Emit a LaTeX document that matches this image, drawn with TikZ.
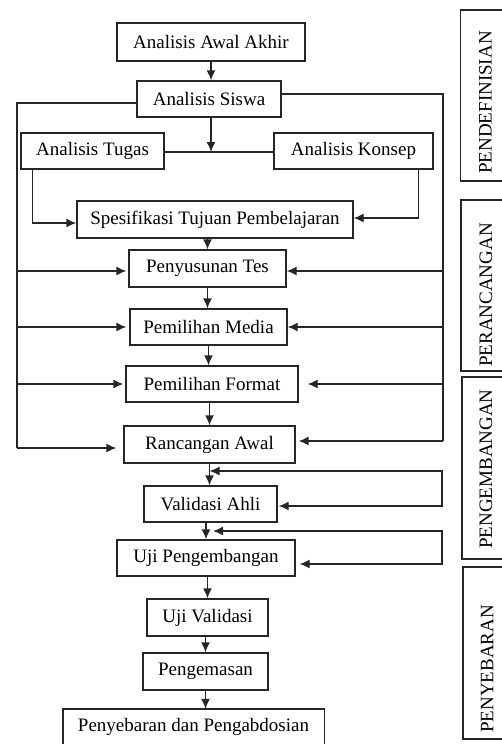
\documentclass[tikz,border=0pt]{standalone}
\usepackage{fontspec}
\setmainfont{Liberation Serif}
\usetikzlibrary{arrows.meta}
\begin{document}
\begin{tikzpicture}[x=1pt,y=-1pt,
  font=\fontsize{19}{22}\selectfont,
  box/.style={draw=black!85, line width=1.4pt, inner sep=0pt, text=black},
  ln/.style={draw=black!85, line width=1.4pt},
  arr/.style={ln, -{Latex[length=10pt,width=9pt]}},
  dbl/.style={ln, {Latex[length=10pt,width=9pt]}-{Latex[length=10pt,width=9pt]}},
  panel/.style={rotate=90, inner sep=0pt, text=black}]
\useasboundingbox (0,0) rectangle (502,744);

% main boxes
\node[box, minimum width=188pt, minimum height=38pt] (aaa) at (211,42) {Analisis Awal Akhir};
\node[box, minimum width=144pt, minimum height=36pt] (siswa) at (209,99) {Analisis Siswa};
\node[box, minimum width=143pt, minimum height=36pt] (tugas) at (92.5,151) {Analisis Tugas};
\node[box, minimum width=159pt, minimum height=36pt] (konsep) at (353.5,151) {Analisis Konsep};
\node[box, minimum width=276pt, minimum height=37pt] (spes) at (215,219.5) {Spesifikasi Tujuan Pembelajaran};
\node[box, minimum width=157pt, minimum height=37pt] (tes) at (207.5,268.5) {Penyusunan Tes};
\node[box, minimum width=157pt, minimum height=36pt] (media) at (208.5,327) {Pemilihan Media};
\node[box, minimum width=172pt, minimum height=36pt] (format) at (212,384) {Pemilihan Format};
\node[box, minimum width=171pt, minimum height=37pt] (awal) at (209.5,444.5) {Rancangan Awal};
\node[box, minimum width=133pt, minimum height=36pt] (ahli) at (210.5,504) {Validasi Ahli};
\node[box, minimum width=178pt, minimum height=36pt] (ujip) at (206,558) {Uji Pengembangan};
\node[box, minimum width=121pt, minimum height=37pt] (ujiv) at (207.5,617.5) {Uji Validasi};
\node[box, minimum width=125pt, minimum height=37pt] (kemas) at (205.5,671.5) {Pengemasan};
\node[inner sep=0pt, minimum width=261pt, minimum height=35pt, text=black] (sebar) at (193.5,726.5) {Penyebaran dan Pengabdosian};
\draw[ln] (sebar.south west) |- (sebar.north east) -- (sebar.south east);

% top analysis connectors
\coordinate (j) at (211,152);
\draw[arr] (aaa.south) -- (aaa.south |- siswa.north);
\draw[ln] (tugas.east |- j) -- (konsep.west |- j);
\draw[arr] (siswa.south -| j) -- (j);
\draw[arr] ([xshift=12pt]tugas.south west) |- ([yshift=-3.5pt]spes.west);
\draw[arr] ([xshift=-15pt]konsep.south east) |- ([yshift=1.5pt]spes.east);

% main vertical chain
\draw[arr] (spes.south -| tes.north) -- (tes.north);
\draw[arr] (tes.south) -- (tes.south |- media.north);
\draw[arr] (media.south) -- (media.south |- format.north);
\draw[arr] (format.south -| awal.north) -- (awal.north);
\draw[arr] (awal.south) -- (awal.south |- ahli.north);
\draw[arr] (ujip.north |- ahli.south) -- (ujip.north);
\draw[arr] (ujiv.north |- ujip.south) -- (ujiv.north);
\draw[arr] (kemas.north |- ujiv.south) -- (kemas.north);
\draw[arr] (kemas.south) -- (kemas.south |- sebar.north);

% left bus
\coordinate (lt) at (17,103);
\coordinate (lb) at (17,448);
\draw[ln] ([yshift=-4pt]siswa.west) -- (lt) -- (lb);
\draw[arr, shorten >=2pt] ([yshift=-2.5pt]tes.west -| lt) -- ([yshift=-2.5pt]tes.west);
\draw[arr, shorten >=3pt] (media.west -| lt) -- (media.west);
\draw[arr, shorten >=2pt] (format.west -| lt) -- (format.west);
\draw[arr] (lb) -- ([xshift=-7pt]awal.west |- lb);

% right bus
\coordinate (rt) at (443,94);
\coordinate (rb) at (443,441);
\draw[ln] ([yshift=5pt]siswa.east) -- (rt) -- (rb);
\draw[arr] ([yshift=-2.5pt]tes.east -| rt) -- ([yshift=-2.5pt]tes.east);
\draw[arr] (media.east -| rt) -- (media.east);
\draw[arr] (format.east -| rt) -- ([xshift=9pt]format.east);
\draw[arr] (rb) -- ([xshift=3pt]awal.east |- rb);

% feedback loops
\coordinate (l1t) at (442,471);
\coordinate (m1) at (awal.south |- l1t);
\draw[dbl] (m1) -- (l1t) |- ([xshift=1pt,yshift=-2pt]ahli.east);
\coordinate (l2t) at (442,531);
\coordinate (m2) at ([xshift=7pt]ujip.north |- l2t);
\draw[dbl] (m2) -- (l2t) |- ([xshift=4pt,yshift=-6pt]ujip.east);

% phase panels
\draw[ln] (502,10) -- (460.5,10) -- (460.5,181) -- (502,181);
\node[panel] (p1) at (485.5,102.5) {PENDEFINISIAN};
\draw[ln] (502,200) -- (461,200) -- (461,371) -- (502,371);
\node[panel] (p2) at (486,295) {PERANCANGAN};
\draw[ln] (502,377) -- (462,377) -- (462,559) -- (502,559);
\node[panel] (p3) at (486,469) {PENGEMBANGAN};
\draw[ln] (502,567) -- (463,567) -- (463,739) -- (502,739);
\node[panel] (p4) at (487,669) {PENYEBARAN};
\end{tikzpicture}
\end{document}
